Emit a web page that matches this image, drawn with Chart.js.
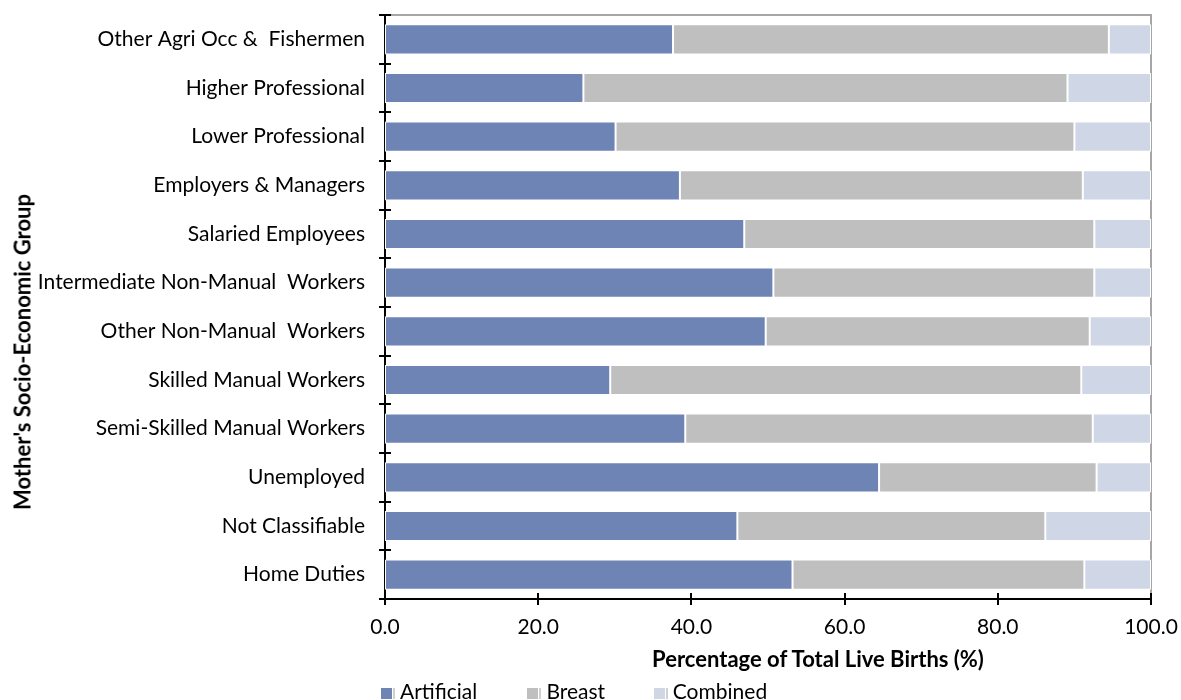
<!DOCTYPE html>
<html>
<head>
<meta charset="utf-8">
<script src="https://cdn.jsdelivr.net/npm/chart.js@4/dist/chart.umd.min.js"></script>
<style>
  html, body { margin: 0; padding: 0; background: #fff; overflow: hidden; }
  #wrap { position: relative; width: 1181px; height: 700px; font-family: Lato, sans-serif; }
  #yTitle {
    position: absolute; left: 22px; top: 352px;
    transform: translate(-50%, -50%) rotate(-90deg);
    white-space: nowrap; font-weight: bold; font-size: 22px; color: #000;
  }
  #xTitle {
    position: absolute; left: 818px; top: 658px;
    transform: translate(-50%, -50%);
    white-space: nowrap; font-weight: bold; font-size: 22px; color: #000;
  }
  #legend { position: absolute; left: 381px; top: 678px; white-space: nowrap; font-size: 21px; }
  .item { display: inline-block; }
  .box { display: inline-block; width: 11px; height: 11px; vertical-align: middle;
         border-right: 1px solid #fff; box-shadow: 2px 0 0 #d0d0d0; margin-right: 7px; }
</style>
</head>
<body>
<div id="wrap">
  <canvas id="chart" width="1181" height="700"></canvas>
  <div id="yTitle">Mother's Socio-Economic Group</div>
  <div id="xTitle">Percentage of Total Live Births (%)</div>
  <div id="legend"></div>
</div>

<script>
// ============================================================
// DATA
// ============================================================

const groups = [
  "Other Agri Occ &  Fishermen",
  "Higher Professional",
  "Lower Professional",
  "Employers & Managers",
  "Salaried Employees",
  "Intermediate Non-Manual  Workers",
  "Other Non-Manual  Workers",
  "Skilled Manual Workers",
  "Semi-Skilled Manual Workers",
  "Unemployed",
  "Not Classifiable",
  "Home Duties"
];

const artificial = [37.6, 25.9, 30.1, 38.5, 46.9, 50.7, 49.7, 29.4, 39.2, 64.5, 46.0, 53.2];
const breast     = [56.9, 63.2, 59.9, 52.6, 45.7, 41.9, 42.3, 61.5, 53.2, 28.4, 40.2, 38.1];
const combined   = [5.5, 10.9, 10.0, 8.9, 7.4, 7.4, 8.0, 9.1, 7.6, 7.1, 13.8, 8.7];

const seriesNames = ["Artificial", "Breast", "Combined"];
const seriesColors = ["#6e84b5", "#bfbfbf", "#cfd6e5"];

const xTicks = [0, 20, 40, 60, 80, 100];


// ============================================================
// PLUGINS
// ============================================================

// gray frame on top / right, and ticks that cross the axis lines
const frameAndTicks = {
  id: "frameAndTicks",
  beforeDatasetsDraw(chart) {
    const { ctx, chartArea: a } = chart;
    ctx.save();
    ctx.strokeStyle = "#a6a6a6";
    ctx.lineWidth = 2;
    ctx.beginPath();
    ctx.moveTo(a.left, a.top);
    ctx.lineTo(a.right, a.top);
    ctx.lineTo(a.right, a.bottom);
    ctx.stroke();
    ctx.restore();
  },
  afterDraw(chart) {
    const { ctx, chartArea: a } = chart;
    const x = chart.scales.x;
    const y = chart.scales.y;
    ctx.save();
    ctx.strokeStyle = "#000";
    ctx.lineWidth = 2;
    ctx.beginPath();
    xTicks.forEach(v => {
      const px = Math.round(x.getPixelForValue(v));
      ctx.moveTo(px, a.bottom - 6);
      ctx.lineTo(px, a.bottom + 6);
    });
    const n = groups.length;
    const step = (y.bottom - y.top) / n;
    for (let i = 0; i <= n; i++) {
      const py = Math.round(y.top + i * step);
      ctx.moveTo(a.left - 6, py);
      ctx.lineTo(a.left + 6, py);
    }
    ctx.stroke();
    ctx.restore();
  }
};

function noOverflow(scale) {
  scale.paddingLeft = 0;
  scale.paddingRight = 0;
  scale.paddingTop = 0;
  scale.paddingBottom = 0;
}


// ============================================================
// CHART
// ============================================================

const ctx = document.getElementById("chart").getContext("2d");

new Chart(ctx, {
  type: "bar",
  data: {
    labels: groups,
    datasets: [artificial, breast, combined].map((d, i) => ({
      label: seriesNames[i],
      data: d,
      backgroundColor: seriesColors[i],
      borderColor: "#ffffff",
      borderWidth: 1,
      borderSkipped: false,
      barPercentage: 0.62,
      categoryPercentage: 1
    }))
  },
  options: {
    indexAxis: "y",
    responsive: false,
    animation: false,
    layout: { padding: { top: 15, right: 30, left: 0, bottom: 0 } },
    plugins: {
      legend: { display: false },
      tooltip: { enabled: false }
    },
    scales: {
      x: {
        stacked: true,
        min: 0,
        max: 100,
        afterBuildTicks(scale) {
          scale.ticks = xTicks.map(v => ({ value: v }));
        },
        afterFit(scale) { scale.height = 101; noOverflow(scale); },
        grid: { display: false, drawTicks: false },
        border: { display: true, color: "#000", width: 2 },
        ticks: {
          padding: 16,
          color: "#000",
          font: { family: "Lato", size: 21 },
          maxRotation: 0,
          callback: v => Number(v).toFixed(1)
        }
      },
      y: {
        stacked: true,
        afterFit(scale) { scale.width = 385; noOverflow(scale); },
        grid: { display: false, drawTicks: false },
        border: { display: true, color: "#000", width: 2 },
        ticks: {
          padding: 20,
          color: "#000",
          font: { family: "Lato", size: 21 },
          autoSkip: false
        }
      }
    }
  },
  plugins: [frameAndTicks]
});


// ============================================================
// LEGEND
// ============================================================

const legendWidths = [141, 121, 140];
document.getElementById("legend").innerHTML = seriesNames.map((name, i) => `
  <span class="item" style="width:${legendWidths[i]}px">
    <span class="box" style="background:${seriesColors[i]}"></span>${name}
  </span>`).join("");
</script>
</body>
</html>
